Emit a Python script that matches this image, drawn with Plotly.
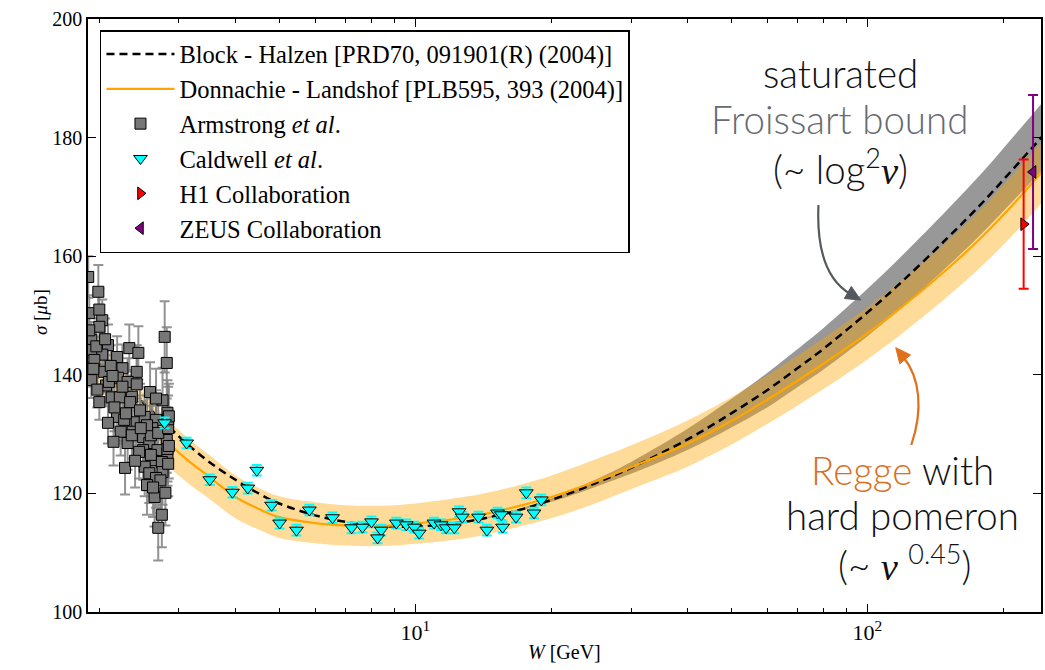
import plotly.graph_objects as go

# ---------------- data ----------------
curve_W = [1.9, 2.0, 2.2, 2.5, 2.8, 3.1, 3.5, 4.0, 4.5, 5.0, 6.0, 7.0, 8.0, 9.0, 10, 12, 14, 17, 20,
           25, 30, 40, 50, 60, 70, 80, 100, 120, 150, 180, 210, 245]
bh_sigma = [145.5, 143.5, 139.5, 135.3, 131.8, 128.6, 125.3, 122.3, 120.0, 118.3, 116.3, 115.2, 114.6,
            114.4, 114.4, 114.9, 115.7, 117.2, 118.9, 121.7, 124.3, 129.1, 133.5, 137.4, 141.1, 144.4,
            150.5, 155.9, 163.0, 169.1, 174.7, 180.4]
dl_sigma = [144.0, 141.8, 137.8, 133.0, 129.0, 125.9, 122.8, 119.4, 117.4, 116.0, 115.0, 114.6, 114.5,
            114.6, 114.9, 115.6, 116.4, 117.9, 119.4, 122.0, 124.4, 128.4, 132.2, 135.8, 139.0, 141.9,
            147.0, 151.6, 157.8, 163.4, 168.7, 174.5]
dl_hi = [148.3, 146.1, 141.9, 137.0, 132.9, 129.7, 126.5, 123.0, 120.9, 119.5, 118.5, 118.0, 117.9,
         118.0, 118.3, 119.1, 119.9, 121.4, 123.0, 125.7, 128.1, 132.3, 136.2, 139.9, 143.2, 146.2,
         151.4, 156.1, 162.5, 168.3, 173.8, 179.7]
dl_lo = [139.7, 137.5, 133.7, 129.0, 125.1, 122.1, 119.1, 115.8, 113.9, 112.5, 111.6, 111.2, 111.1,
         111.2, 111.5, 112.1, 112.9, 114.4, 115.8, 118.3, 120.7, 124.5, 128.2, 131.7, 134.8, 137.6,
         142.6, 147.1, 153.1, 158.5, 163.6, 169.3]

grey_W = [10, 14, 20, 25, 30, 40, 50, 60, 70, 80, 100, 120, 150, 180, 210, 245]
grey_hi = [114.4, 115.8, 119.2, 122.3, 125.3, 130.9, 135.9, 140.3, 144.3, 147.9, 154.5, 160.3, 167.8,
           174.2, 180.1, 186.1]
grey_lo = [114.4, 115.6, 118.6, 121.1, 123.3, 127.3, 131.1, 134.5, 137.9, 140.9, 146.5, 151.5, 158.2,
           164.0, 169.3, 174.7]

arm_W = [1.89, 1.99, 1.90, 2.03, 2.00, 1.92, 2.09, 1.93, 2.33, 2.44,
         2.19, 2.03, 1.95, 2.25, 2.42, 1.92, 2.20, 2.31, 2.42, 2.07,
         2.13, 2.22, 2.36, 2.59, 2.00, 2.76, 2.34, 2.67, 2.83, 2.19,
         2.09, 2.27, 2.42, 2.52, 2.67, 2.23, 2.37, 2.50, 2.15, 2.31,
         2.82, 2.58, 2.69, 2.83, 2.50, 2.61, 2.75, 2.52, 2.28, 2.76,
         2.58, 2.67, 2.55, 2.73, 2.65, 2.80, 2.75, 2.70, 2.79, 2.82,
         2.62, 2.46, 2.05, 1.98, 2.12, 1.90, 2.00, 2.60, 2.70, 2.84,
         2.84, 2.85, 2.83, 2.84, 2.85, 2.60, 2.55, 2.45, 2.40, 2.36,
         2.16, 2.25, 2.10, 1.94, 1.97, 2.06, 2.14, 2.29, 2.47, 2.63]
arm_S = [156.5, 154.0, 150.4, 149.2, 148.1, 145.9, 145.0, 144.2, 144.5, 143.7,
         143.0, 143.4, 142.5, 141.1, 140.5, 139.1, 139.5, 138.8, 138.4, 138.2,
         136.2, 136.2, 136.3, 137.1, 135.4, 135.7, 135.4, 136.0, 133.6, 132.9,
         131.9, 132.4, 132.0, 132.9, 132.4, 130.4, 130.4, 129.5, 128.7, 128.5,
         129.0, 128.5, 127.3, 126.8, 127.3, 125.6, 125.3, 124.5, 124.3, 123.6,
         123.4, 122.6, 121.4, 122.2, 119.4, 120.1, 116.4, 114.2, 146.4, 142.0,
         131.0, 134.0, 140.5, 137.5, 141.5, 147.5, 151.0, 129.8, 130.2, 131.0,
         132.5, 133.0, 127.5, 125.0, 128.0, 126.5, 131.5, 127.0, 125.5, 129.8,
         134.5, 138.0, 138.8, 141.0, 144.8, 146.0, 139.8, 133.5, 131.0, 121.0]
arm_E = [3.5, 4.5, 3.0, 3.5, 3.0, 3.0, 3.5, 3.0, 4.0, 4.5,
         3.5, 3.0, 3.0, 4.0, 4.5, 3.0, 3.5, 4.0, 4.5, 3.5,
         3.5, 4.0, 4.5, 5.0, 3.0, 5.5, 4.5, 5.0, 5.5, 4.0,
         3.5, 4.0, 4.5, 5.0, 5.0, 4.0, 4.5, 5.0, 4.0, 4.5,
         5.5, 5.0, 5.0, 5.5, 5.0, 5.0, 5.5, 5.0, 4.5, 5.5,
         5.0, 5.0, 5.0, 5.5, 5.0, 5.5, 5.5, 5.5, 6.0, 6.0,
         5.0, 4.5, 3.5, 3.0, 3.5, 3.0, 3.5, 5.0, 5.5, 5.5,
         5.5, 5.5, 5.5, 5.5, 5.5, 5.0, 5.0, 4.5, 4.5, 4.5,
         4.0, 4.0, 3.5, 3.0, 3.0, 3.5, 3.5, 4.0, 4.5, 5.0]

cal_W = [2.79, 3.12, 3.51, 3.94, 4.26, 4.46, 4.81, 5.01, 5.46, 5.83, 6.56, 7.23, 7.64, 8.00, 8.41,
         8.25, 9.08, 9.55, 9.95, 10.2, 11.0, 11.4, 11.7, 12.2, 12.5, 12.7, 13.8, 14.4, 15.2, 15.5,
         15.6, 16.7, 17.6, 18.3, 19.0]
cal_S = [131.9, 128.5, 122.3, 120.2, 120.9, 123.9, 118.0, 115.0, 113.8, 117.2, 115.9, 114.2, 114.3,
         115.2, 113.8, 112.5, 115.0, 114.7, 114.3, 113.3, 115.0, 114.7, 114.2, 114.2, 116.9, 116.0,
         116.0, 113.8, 116.7, 116.4, 114.3, 116.0, 120.1, 116.7, 118.9]
cal_E = [0.9] * len(cal_W)

h1_W = [221.6]
h1_S = [165.4]
h1_E = [10.9]
zeus_W = [232.5]
zeus_S = [174.2]
zeus_E = [13.0]

# ---------------- layout helpers ----------------
L, R, T, B = 88, 1043, 19, 612
def P(px, py):
    return (px - L) / (R - L), (B - py) / (B - T)

fig = go.Figure()

# bands
fig.add_trace(go.Scatter(x=grey_W, y=grey_hi, mode='lines', line=dict(width=0, shape='spline'),
                         showlegend=False, hoverinfo='skip'))
fig.add_trace(go.Scatter(x=grey_W, y=grey_lo, mode='lines', line=dict(width=0, shape='spline'),
                         fill='tonexty', fillcolor='rgb(152,152,152)', showlegend=False, hoverinfo='skip'))
fig.add_trace(go.Scatter(x=curve_W, y=dl_hi, mode='lines', line=dict(width=0, shape='spline'),
                         showlegend=False, hoverinfo='skip'))
fig.add_trace(go.Scatter(x=curve_W, y=dl_lo, mode='lines', line=dict(width=0, shape='spline'),
                         fill='tonexty', fillcolor='rgba(255,165,0,0.4)', showlegend=False, hoverinfo='skip'))

# curves
fig.add_trace(go.Scatter(x=curve_W, y=bh_sigma, mode='lines', legendgroup='g1',
                         name='Block - Halzen [PRD70, 091901(R) (2004)]',
                         line=dict(color='black', width=2.5, dash='8px,5px', shape='spline')))
fig.add_trace(go.Scatter(x=curve_W, y=dl_sigma, mode='lines', legendgroup='g2',
                         name='Donnachie - Landshof [PLB595, 393 (2004)]',
                         line=dict(color='#FFA500', width=2.2, shape='spline')))

# data
fig.add_trace(go.Scatter(x=arm_W, y=arm_S, mode='markers', legendgroup='g3',
                         name='Armstrong <i>et al</i>.',
                         marker=dict(symbol='square', size=11, color='#777777',
                                     line=dict(color='black', width=1)),
                         error_y=dict(type='data', array=arm_E, color='rgba(128,128,128,0.85)',
                                      thickness=2, width=5)))
fig.add_trace(go.Scatter(x=cal_W, y=cal_S, mode='markers', legendgroup='g4',
                         name='Caldwell <i>et al</i>.',
                         marker=dict(symbol='triangle-down', size=12, color='#00FFFF',
                                     line=dict(color='black', width=1)),
                         error_y=dict(type='data', array=cal_E, color='#00FFFF', thickness=2, width=5)))
fig.add_trace(go.Scatter(x=h1_W, y=h1_S, mode='markers', legendgroup='g5',
                         name='H1 Collaboration',
                         marker=dict(symbol='triangle-right', size=11, color='#FF0000',
                                     line=dict(color='black', width=1)),
                         error_y=dict(type='data', array=h1_E, color='#FF0000', thickness=2, width=5)))
fig.add_trace(go.Scatter(x=zeus_W, y=zeus_S, mode='markers', legendgroup='g6',
                         name='ZEUS Collaboration',
                         marker=dict(symbol='triangle-left', size=11, color='#800080',
                                     line=dict(color='black', width=1)),
                         error_y=dict(type='data', array=zeus_E, color='#800080', thickness=2, width=5)))

serif = 'Liberation Serif'
sans = 'Lato'

fig.update_layout(
    width=1045, height=670,
    margin=dict(l=L, r=1045 - R, t=T, b=670 - B, pad=0),
    paper_bgcolor='white', plot_bgcolor='white',
    font=dict(family=serif, size=20, color='black'),
    showlegend=True,
    legend=dict(x=P(100, 30)[0], y=P(100, 30)[1], xanchor='left', yanchor='top',
                bgcolor='white', bordercolor='black', borderwidth=1.5,
                font=dict(family=serif, size=24.5, color='black'),
                itemwidth=68, tracegroupgap=0, traceorder='grouped'),
    xaxis=dict(type='log', range=[0.276, 2.384], showgrid=False, zeroline=False,
               showline=True, linecolor='black', linewidth=1.5, mirror='ticks',
               ticks='inside', ticklen=8, tickwidth=1, tickcolor='black',
               tickvals=[10, 100], ticktext=['10<sup>1</sup>', '10<sup>2</sup>'],
               tickfont=dict(family=serif, size=22),
               minor=dict(ticks='inside', ticklen=4, tickwidth=1, tickcolor='black',
                          tickvals=[2, 3, 4, 5, 6, 7, 8, 9, 20, 30, 40, 50, 60, 70, 80, 90, 200])),
    yaxis=dict(range=[100, 200], showgrid=False, zeroline=False,
               showline=True, linecolor='black', linewidth=1.5, mirror='ticks',
               ticks='inside', ticklen=8, tickwidth=1, tickcolor='black',
               tickvals=[100, 120, 140, 160, 180, 200],
               tickfont=dict(family=serif, size=20)),
)

ann = []
def text(px, py, s, size=38.5, color='#111111', angle=0, family=sans, weight=300):
    x, y = P(px, py)
    ann.append(dict(x=x, y=y, xref='paper', yref='paper', text=s, showarrow=False,
                    xanchor='center', yanchor='middle', textangle=angle,
                    font=dict(family=family, size=size, color=color, weight=weight)))

nu = "<span style='font-family:Liberation Serif'><i>ν</i></span>"
text(842, 73, 'saturated')
text(841, 119, 'Froissart bound', color='#676b72')
text(842, 166, '(~ log<sup>2</sup>' + nu + ')')
text(904, 470, "<span style='color:#d9701e'>Regge</span> with")
text(904, 515, 'hard pomeron')
text(906, 562, '(~ ' + nu + ' <sup>0.45</sup>)')
text(40, 312, '<i>σ</i> [<i>μ</i>b]', size=19, color='black', angle=-90, family=serif, weight=400)
text(565, 652, '<i>W</i> [GeV]', size=20, color='black', family=serif, weight=400)
fig.update_layout(annotations=ann)

# curved arrows
def arrow(p0, c1, c2, p1, color, head=15, half=7):
    pts = [P(*p0), P(*c1), P(*c2), P(*p1)]
    path = 'M {:.5f},{:.5f} C {:.5f},{:.5f} {:.5f},{:.5f} {:.5f},{:.5f}'.format(
        pts[0][0], pts[0][1], pts[1][0], pts[1][1], pts[2][0], pts[2][1], pts[3][0], pts[3][1])
    fig.add_shape(type='path', path=path, xref='paper', yref='paper',
                  line=dict(color=color, width=2.2))
    dx, dy = p1[0] - c2[0], p1[1] - c2[1]
    n = (dx * dx + dy * dy) ** 0.5
    ux, uy = dx / n, dy / n
    tip = (p1[0] + ux * head * 0.8, p1[1] + uy * head * 0.8)
    base = (tip[0] - ux * head, tip[1] - uy * head)
    a = (base[0] - uy * half, base[1] + ux * half)
    b = (base[0] + uy * half, base[1] - ux * half)
    q = [P(*tip), P(*a), P(*b)]
    hp = 'M {:.5f},{:.5f} L {:.5f},{:.5f} L {:.5f},{:.5f} Z'.format(
        q[0][0], q[0][1], q[1][0], q[1][1], q[2][0], q[2][1])
    fig.add_shape(type='path', path=hp, xref='paper', yref='paper',
                  line=dict(color=color, width=1), fillcolor=color)

arrow((820, 205), (818, 250), (828, 280), (852, 294), '#545960')
arrow((913, 445), (925, 410), (922, 378), (905, 357), '#e0701c')

fig.write_html('out.html')
